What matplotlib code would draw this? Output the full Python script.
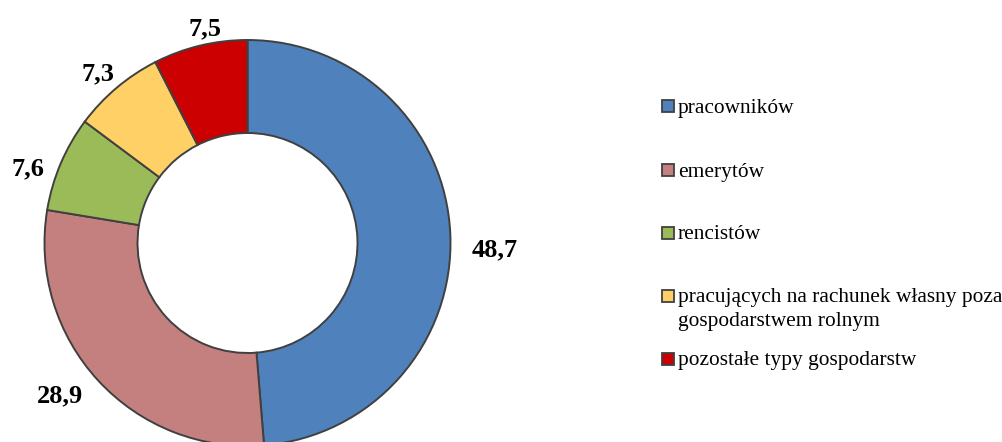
import numpy as np
import matplotlib
matplotlib.use("Agg")
import matplotlib.pyplot as plt
from matplotlib.patches import Rectangle

categories = ["pracowników", "emerytów", "rencistów",
              "pracujących na rachunek własny poza\ngospodarstwem rolnym",
              "pozostałe typy gospodarstw"]
values = [48.7, 28.9, 7.6, 7.3, 7.5]
value_labels = ["48,7", "28,9", "7,6", "7,3", "7,5"]
colors = ["#4F81BD", "#C3807F", "#9BBB59", "#FFD066", "#CC0000"]

W, H = 1003, 442
fig = plt.figure(figsize=(W / 100, H / 100), dpi=100)
ax = fig.add_axes([0, 0, 1, 1])

cx, cy = 247.5, H - 243
R = 203
wedges, _ = ax.pie(values, colors=colors, startangle=90, counterclock=False,
                   radius=R, center=(cx, cy), frame=True,
                   wedgeprops=dict(width=R - 110, edgecolor="#404040", linewidth=1.4))
ax.set_xlim(0, W)
ax.set_ylim(0, H)
ax.set_aspect("auto")
ax.axis("off")

# data labels outside the ring (distance in radii, angular shift in degrees)
label_dist = [1.217, 1.184, 1.148, 1.123, 1.09]
label_shift = [-3.3, -3.8, 3.7, 0.9, -2.3]
for w, lab, d, s in zip(wedges, value_labels, label_dist, label_shift):
    ang = np.deg2rad((w.theta1 + w.theta2) / 2 + s)
    x = cx + R * d * np.cos(ang)
    y = cy + R * d * np.sin(ang)
    ax.text(x, y - 9, lab, ha="center", va="baseline", fontsize=19, fontweight="bold",
            family="Liberation Serif", color="black")

# legend (baseline of first line of each entry, in pixels from top)
leg_base = [112.5, 176.5, 239, 302, 365]
line_step = 24
for name, col, yb in zip(categories, colors, leg_base):
    y = H - yb
    ax.add_patch(Rectangle((662.5, y + 0.5), 12, 12, facecolor=col,
                           edgecolor="#404040", linewidth=1.3))
    for i, part in enumerate(name.split("\n")):
        ax.text(678, y - line_step * i, part, ha="left", va="baseline",
                fontsize=15.4, family="Liberation Serif", color="black")

fig.savefig("out.png", dpi=100)
